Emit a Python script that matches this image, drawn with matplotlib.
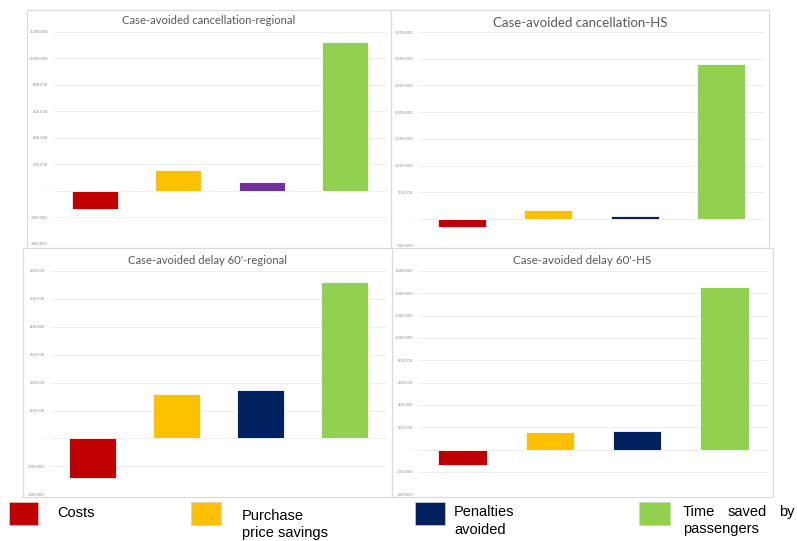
import matplotlib
matplotlib.use("Agg")
import matplotlib.pyplot as plt
from matplotlib.patches import Rectangle
from matplotlib.ticker import FuncFormatter, MultipleLocator

categories = ["Costs", "Purchase price savings", "Penalties avoided", "Time saved by passengers"]

titles = ["Case-avoided cancellation-regional", "Case-avoided cancellation-HS",
          "Case-avoided delay 60'-regional", "Case-avoided delay 60'-HS"]

values_cancel_regional = [-138000, 161000, 71000, 1127000]
values_cancel_hs = [-144000, 163000, 62000, 2903000]
values_delay_regional = [-140000, 161000, 173000, 561000]
values_delay_hs = [-141000, 161000, 164000, 1454000]

ylims = [(-400000, 1200000), (-500000, 3500000), (-200000, 600000), (-400000, 1600000)]
ysteps = [200000, 500000, 100000, 200000]

colors_default = ["#C00000", "#FFC000", "#002060", "#92D050"]
colors_first = ["#C00000", "#FFC000", "#7030A0", "#92D050"]

W, H = 797, 541
fig = plt.figure(figsize=(W / 100, H / 100), dpi=100)
fig.patch.set_facecolor("white")


def fig_rect(l, t, r, b):
    return [l / W, 1 - b / H, (r - l) / W, (b - t) / H]


# frames (chart areas)
frames = [(27, 10, 391, 248), (391, 10, 769, 248), (23, 248, 392, 497), (392, 248, 773, 497)]
# plot areas
plots = [(53.5, 32, 386.5, 244), (419, 32, 764, 245.7), (50.5, 271, 386.5, 494.3), (419, 271, 768, 494.3)]
title_pos = [(209, 21, 173), (580, 23, 175), (207.5, 260, 159), (582.5, 260, 138)]

series = [values_cancel_regional, values_cancel_hs, values_delay_regional, values_delay_hs]

for fr in frames:
    l, t, r, b = fr
    fig.add_artist(Rectangle((l / W, 1 - b / H), (r - l) / W, (b - t) / H,
                             transform=fig.transFigure, facecolor="none",
                             edgecolor="#d9d9d9", lw=0.8, zorder=0))


def fmt(v, pos):
    if abs(v) < 1:
        return "-"
    s = f"{abs(v):,.0f}".replace(",", ".")
    return ("-" if v < 0 else "") + s


fig.canvas.draw()
renderer = fig.canvas.get_renderer()

axes = []
for i in range(4):
    ax = fig.add_axes(fig_rect(*plots[i]))
    ax.set_facecolor("none")
    cols = colors_first if i == 0 else colors_default
    x = list(range(len(categories)))
    ax.bar(x, series[i], width=0.555, color=cols, edgecolor="white", linewidth=0.6, zorder=3)
    ax.set_xlim(-0.5, 3.5)
    ax.set_ylim(*ylims[i])
    ax.yaxis.set_major_locator(MultipleLocator(ysteps[i]))
    ax.yaxis.set_major_formatter(FuncFormatter(fmt))
    ax.grid(axis="y", color="#eeeeee", lw=0.7, zorder=0)
    ax.set_xticks([])
    for s in ax.spines.values():
        s.set_visible(False)
    ax.tick_params(axis="y", length=0, pad=4, labelsize=3, labelcolor="#8c8c8c")
    for lab in ax.get_yticklabels():
        lab.set_family("Lato")
    axes.append(ax)

# titles
for i in range(4):
    cx, cy, tw = title_pos[i]
    t = fig.text(cx / W, 1 - cy / H, titles[i], ha="center", va="center",
                 fontsize=9, color="#595959", family="Lato")
    w = t.get_window_extent(renderer).width
    t.set_fontsize(9 * tw / w)

# legend
sq = [(9, 38), (191, 221), (415, 445), (639, 670)]
for i, (l, r) in enumerate(sq):
    fig.add_artist(Rectangle((l / W, 1 - 525 / H), (r - l) / W, 23 / H,
                             transform=fig.transFigure, facecolor=colors_default[i],
                             edgecolor="#d0d0d0", lw=0.5))

lf = dict(fontsize=10.5, family="Liberation Sans", color="black", va="center", ha="left")
fig.text(57 / W, 1 - 513 / H, "Costs", **lf)
fig.text(242 / W, 1 - 516 / H, "Purchase", **lf)
fig.text(242 / W, 1 - 533 / H, "price savings", **lf)
fig.text(454 / W, 1 - 512 / H, "Penalties", **lf)
fig.text(454 / W, 1 - 530 / H, "avoided", **lf)
fig.text(683 / W, 1 - 512 / H, "Time", **lf)
fig.text(728 / W, 1 - 512 / H, "saved", **lf)
fig.text(779 / W, 1 - 512 / H, "by", **lf)
fig.text(683 / W, 1 - 529 / H, "passengers", **lf)

fig.savefig("out.png", dpi=100, facecolor="white")
